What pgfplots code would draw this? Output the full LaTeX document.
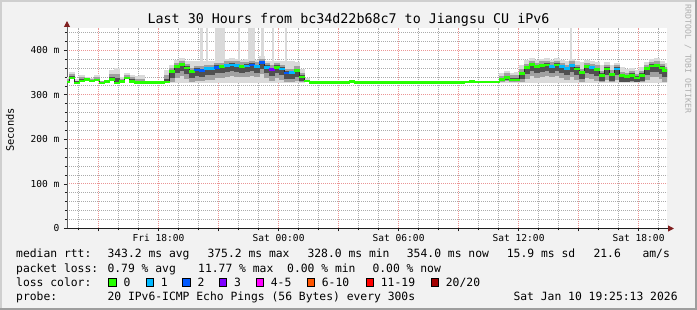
\documentclass[border=0pt]{standalone}
\usepackage{pgfplots}
\pgfplotsset{compat=1.18}
\usepackage{pgfplotstable}
\usetikzlibrary{arrows.meta}
\usepackage{fontspec}
\setmainfont{DejaVu Sans Mono}
\definecolor{bgc}{HTML}{F2F2F2}
\definecolor{shadeA}{HTML}{CFCFCF}
\definecolor{shadeB}{HTML}{9E9E9E}
\definecolor{gridc}{HTML}{ABABAB}
\definecolor{mgridc}{HTML}{EB9595}
\definecolor{arrowc}{HTML}{801F1F}
\definecolor{axisc}{HTML}{1F1F1F}
\definecolor{wmc}{HTML}{AFAFAF}
\definecolor{smk1}{HTML}{DADADA}
\definecolor{smk2}{HTML}{A0A0A0}
\definecolor{smk3}{HTML}{505050}
\definecolor{lc0}{HTML}{26FF00}
\definecolor{lc1}{HTML}{00B8FF}
\definecolor{lc2}{HTML}{0059FF}
\definecolor{lc3}{HTML}{7E00FF}
\definecolor{lc4}{HTML}{FF00FF}
\definecolor{lc6}{HTML}{FF5500}
\definecolor{lc11}{HTML}{FF0000}
\definecolor{lc20}{HTML}{A10000}

\pgfplotstableread{
t med lo1 lo2 lo3 hi3 hi2 hi1 loss
0.00 329 326 327 328 332 336 340 0
0.25 338 335 336 337 342 346 352 0
0.50 327 324 325 326 330 332 336 0
0.75 331 328 329 330 335 339 344 0
1.00 334 331 332 333 336 338 340 0
1.25 331 328 329 330 333 335 338 0
1.50 333 330 331 332 336 340 344 0
1.75 327 324 325 326 328 330 332 0
2.00 330 327 328 329 331 332 334 0
2.25 334 331 332 333 341 347 356 0
2.50 327 324 325 326 337 347 360 0
2.75 330 327 328 329 333 336 340 0
3.00 338 335 336 337 341 344 348 0
3.25 330 327 328 329 335 339 345 0
3.50 328 326 327 327 332 336 342 0
3.75 328 328 328 328 330 335 344 0
4.00 328 328 328 328 328 328 328 0
4.25 328 328 328 328 328 328 328 0
4.50 328 328 328 328 328 328 328 0
4.75 328 328 328 328 328 328 328 0
5.00 329 326 327 328 335 345 355 0
5.25 352 327 328 338 356 361 367 0
5.50 363 327 338 349 367 372 378 0
5.75 368 327 343 354 372 377 383 0
6.00 360 327 335 346 364 369 375 0
6.25 352 327 328 338 356 361 376 0
6.50 356 327 331 342 360 365 376 2
6.75 355 327 330 341 359 364 376 2
7.00 359 327 334 345 363 368 376 1
7.25 359 327 334 345 363 368 376 1
7.50 362 327 337 348 366 371 377 2
7.75 363 327 338 349 367 372 378 0
8.00 366 327 341 352 370 375 381 1
8.25 367 327 342 353 371 376 382 1
8.50 366 327 341 352 370 375 381 1
8.75 364 327 339 350 368 373 379 0
9.00 365 327 340 351 369 374 380 1
9.25 367 327 342 353 371 376 382 2
9.50 364 327 339 350 368 373 379 1
9.75 372 327 347 358 376 381 387 2
10.00 362 327 337 348 366 371 377 1
10.25 357 327 332 343 361 366 376 3
10.50 362 327 337 348 366 371 377 0
10.75 358 327 333 344 362 367 376 1
11.00 349 327 328 335 353 358 376 2
11.25 350 327 328 336 354 359 376 1
11.50 355 327 330 341 359 364 374 0
11.75 340 327 328 331 344 349 358 0
12.00 331 328 329 330 332 334 337 0
12.25 328 328 328 328 328 328 328 0
12.50 328 328 328 328 328 328 328 0
12.75 328 328 328 328 328 328 328 0
13.00 328 328 328 328 328 328 328 0
13.25 328 328 328 328 328 328 328 0
13.50 328 328 328 328 328 328 328 0
13.75 328 328 328 328 328 328 328 0
14.00 328 328 328 328 328 328 328 0
14.25 330 330 330 330 330 330 330 0
14.50 328 328 328 328 328 328 328 0
14.75 328 328 328 328 328 328 328 0
15.00 328 328 328 328 328 328 328 0
15.25 328 328 328 328 328 328 328 0
15.50 328 328 328 328 328 328 328 0
15.75 328 328 328 328 328 328 328 0
16.00 328 328 328 328 328 328 328 0
16.25 328 328 328 328 328 328 328 0
16.50 328 328 328 328 328 328 328 0
16.75 328 328 328 328 328 328 328 0
17.00 328 328 328 328 328 328 328 0
17.25 328 328 328 328 328 328 328 0
17.50 328 328 328 328 328 328 328 0
17.75 328 328 328 328 328 328 328 0
18.00 328 328 328 328 328 328 328 0
18.25 328 328 328 328 328 328 328 0
18.50 328 328 328 328 328 328 328 0
18.75 328 328 328 328 328 328 328 0
19.00 328 328 328 328 328 328 328 0
19.25 328 328 328 328 328 328 328 0
19.50 328 328 328 328 328 328 328 0
19.75 328 328 328 328 328 328 328 0
20.00 329 329 329 329 329 329 329 0
20.25 330 330 330 330 330 330 330 0
20.50 329 329 329 329 329 329 329 0
20.75 329 329 329 329 329 329 329 0
21.00 329 329 329 329 329 329 329 0
21.25 329 329 329 329 329 329 329 0
21.50 329 329 329 329 329 329 329 0
21.75 335 327 329 332 338 343 350 0
22.00 339 327 330 334 343 348 354 0
22.25 333 327 328 330 338 344 350 0
22.50 333 327 328 330 338 344 352 0
22.75 348 327 328 335 352 357 366 0
23.00 361 327 336 347 365 370 378 0
23.25 368 327 343 354 372 377 383 0
23.50 363 327 338 349 367 372 378 0
23.75 366 327 341 352 370 375 381 0
24.00 367 327 342 353 371 376 382 0
24.25 364 327 339 350 368 373 379 1
24.50 367 327 342 353 371 376 382 0
24.75 363 327 338 349 367 372 378 1
25.00 359 327 334 345 363 368 376 1
25.25 366 327 341 352 370 375 381 1
25.50 358 327 333 344 362 367 376 0
25.75 350 327 328 336 354 359 374 0
26.00 363 327 338 349 367 372 378 0
26.25 361 327 336 347 365 370 376 1
26.50 357 327 332 343 361 366 374 0
26.75 344 327 328 330 348 353 366 0
27.00 358 327 333 344 362 367 374 0
27.25 346 327 328 332 350 355 366 0
27.50 358 327 333 344 362 367 372 1
27.75 343 327 328 329 347 352 362 0
28.00 341 327 328 329 345 350 358 0
28.25 344 327 328 330 348 353 360 0
28.50 338 327 328 329 342 347 356 0
28.75 344 327 328 330 348 353 362 0
29.00 359 327 334 345 363 368 374 0
29.25 365 327 340 351 369 374 380 0
29.50 366 327 341 352 370 375 382 0
29.75 360 327 335 346 364 369 377 0
29.90 354 327 329 340 358 363 372 0
}\data

% clipped pings that run past the top of the scale
\pgfplotstableread{
c lo hi
6.72 374 450
7.00 374 450
8.60 374 450
9.78 374 450
10.30 374 450
10.95 374 450
25.20 374 450
}\bands

\begin{document}
\begin{tikzpicture}
\fill[bgc] (0bp,0bp) rectangle (697bp,310bp);
\fill[shadeA] (0bp,0bp) rectangle (2bp,310bp);
\fill[shadeA] (0bp,308bp) rectangle (697bp,310bp);
\fill[shadeB] (695bp,0bp) rectangle (697bp,310bp);
\fill[shadeB] (0bp,0bp) rectangle (697bp,2bp);

\begin{axis}[
  at={(67bp,81.5bp)}, anchor=south west,
  scale only axis, width=600bp, height=200.5bp,
  xmin=0, xmax=30, ymin=0, ymax=450,
  axis x line=bottom, axis y line=left,
  axis background/.style={fill=white},
  x axis line style={draw=axisc, line width=1bp, shorten >=-7bp, -{Triangle[length=6bp,width=6bp,color=arrowc]}},
  y axis line style={draw=axisc!70, line width=1bp, shorten >=-7bp, -{Triangle[length=6bp,width=6bp,color=arrowc]}},
  xtick={1.58,4.58,7.58,10.58,13.58,16.58,19.58,22.58,25.58,28.58},
  xticklabels={,Fri 18:00,,Sat 00:00,,Sat 06:00,,Sat 12:00,,Sat 18:00},
  minor xtick={0.58,2.58,3.58,5.58,6.58,8.58,9.58,11.58,12.58,14.58,15.58,17.58,18.58,20.58,21.58,23.58,24.58,26.58,27.58,29.58},
  ytick={0,100,200,300,400},
  yticklabels={0,100 m,200 m,300 m,400 m},
  minor ytick={20,40,60,80,120,140,160,180,220,240,260,280,320,340,360,380,420,440},
  grid=both,
  major grid style={draw=mgridc, dash pattern=on 1bp off 1bp, line width=1bp},
  minor grid style={draw=gridc, dash pattern=on 1bp off 1bp, line width=1bp},
  tick align=outside,
  tick style={draw=axisc, line width=0.8bp},
  major tick length=3bp, minor tick length=2bp,
  ticklabel style={font=\fontsize{9.6}{11}\selectfont},
  yticklabel style={anchor=east, inner sep=0pt, xshift=-4.5bp},
  xticklabel style={inner sep=0pt, yshift=-3bp},
  clip marker paths=true,
  smoke/.style 2 args={draw=none, mark=none, error bars/.cd, y dir=plus, y explicit,
    error mark=none, error bar style={line width=#1, draw=#2}},
]
% clipped pings above the top of the scale
\addplot[smoke={2.4bp}{smk1}]
  table[x=c, y=lo, y error expr=\thisrow{hi}-\thisrow{lo}]{\bands};
\addplot[smoke={10bp}{smk1}] coordinates {(7.65,374) +- (0,76)};
\addplot[smoke={7bp}{smk1}] coordinates {(9.22,374) +- (0,76)};
% smoke, one bar per sample
\addplot[smoke={5.2bp}{smk1}]
  table[x=t, y=lo1, y error expr=\thisrow{hi1}-\thisrow{lo1}]{\data};
\addplot[smoke={5.2bp}{smk2}]
  table[x=t, y=lo2, y error expr=\thisrow{hi2}-\thisrow{lo2}]{\data};
\addplot[smoke={5.2bp}{smk3}]
  table[x=t, y=lo3, y error expr=\thisrow{hi3}-\thisrow{lo3}]{\data};
% median
\addplot[const plot mark mid, draw=black!85, line width=0.8bp, mark=none] table[x=t,y=med]{\data};
\addplot[scatter, only marks, mark=-, mark size=2.6bp, line width=2.6bp,
  scatter src=explicit symbolic,
  scatter/classes={0={draw=lc0},1={draw=lc1},2={draw=lc2},3={draw=lc3}}]
  table[x=t,y=med,meta=loss]{\data};
\end{axis}

\node[anchor=base, font=\fontsize{13.4}{16}\selectfont] at (348.5bp,286bp) {Last 30 Hours from bc34d22b68c7 to Jiangsu CU iPv6};
\node[rotate=90, font=\fontsize{10.4}{12}\selectfont] at (10bp,180bp) {Seconds};
\node[rotate=-90, font=\fontsize{8.2}{9}\selectfont, text=wmc] at (688bp,251bp) {RRDTOOL / TOBI OETIKER};

\begin{scope}[every node/.style={anchor=base west, inner sep=0pt, font=\fontsize{11.4}{13}\selectfont}]
\node at (16bp,52bp) {median rtt:};
\node at (107.3bp,52bp) {343.2 ms avg};
\node at (207.3bp,52bp) {375.2 ms max};
\node at (307.3bp,52bp) {328.0 ms min};
\node at (406.7bp,52bp) {354.0 ms now};
\node at (506.7bp,52bp) {15.9 ms sd};
\node at (593.3bp,52bp) {21.6};
\node at (642.3bp,52bp) {am/s};
\node at (16bp,38bp) {packet loss:};
\node at (107.3bp,38bp) {0.79 \% avg};
\node at (198bp,38bp) {11.77 \% max};
\node at (287bp,38bp) {0.00 \% min};
\node at (372.3bp,38bp) {0.00 \% now};
\node at (16bp,24bp) {loss color:};
\node at (123.3bp,24bp) {0};
\node at (160.7bp,24bp) {1};
\node at (197.3bp,24bp) {2};
\node at (234bp,24bp) {3};
\node at (270.7bp,24bp) {4-5};
\node at (321.7bp,24bp) {6-10};
\node at (380.7bp,24bp) {11-19};
\node at (445.7bp,24bp) {20/20};
\node at (16bp,10bp) {probe:};
\node at (107.3bp,10bp) {20 IPv6-ICMP Echo Pings (56 Bytes) every 300s};
\node at (513.3bp,10bp) {Sat Jan 10 19:25:13 2026};
\end{scope}
\foreach \xx/\cc in {108.5/lc0,146/lc1,182.5/lc2,219.2/lc3,256/lc4,307/lc6,366/lc11,431/lc20}{
  \filldraw[fill=\cc, draw=black, line width=0.8bp] (\xx bp,24bp) rectangle ++(7.5bp,7.5bp);
}
\end{tikzpicture}
\end{document}
